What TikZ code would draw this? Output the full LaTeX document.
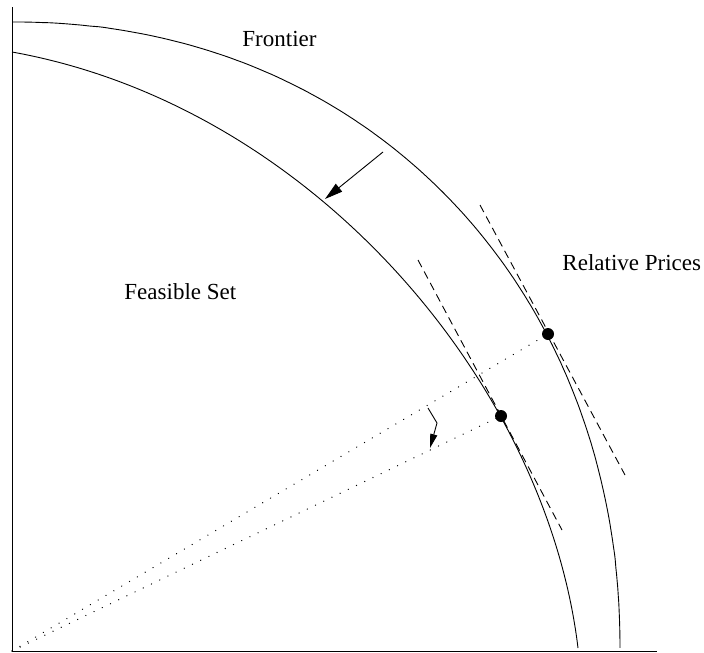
\documentclass[tikz,border=0pt]{standalone}
\usepackage{fontspec}
\setmainfont{Liberation Serif}
\usetikzlibrary{arrows.meta}
\begin{document}
\begin{tikzpicture}[x=1pt,y=-1pt, line width=0.9pt,
  lbl/.style={inner sep=0pt, anchor=base west, font=\fontsize{23}{27}\selectfont},
  tangent/.style={dash pattern=on 8pt off 5pt},
  ray/.style={line cap=round, dash pattern=on 0.1pt off 9pt, line width=1.3pt},
  pt/.style={circle, fill=black, inner sep=0pt, minimum size=12pt},
  bigtip/.style={-{Triangle[length=18pt,width=10pt]}},
  smalltip/.style={-{Triangle[length=14pt,width=7pt]}}]
\useasboundingbox (0,0) rectangle (704,653);
% axes
\coordinate (O) at (12,651);
\coordinate (ytop) at (12,7);
\coordinate (xend) at (657,651);
\draw (ytop) -- (O) -- (xend);
% outer frontier (superellipse)
\draw plot[domain=89.99:0.21, samples=150, smooth] ({12+608*pow(cos(\x),0.952)},{651-629*pow(sin(\x),0.952)});
% inner frontier
\coordinate (i0) at (12,52);
\coordinate (i1) at (578,648);
\draw (i0) .. controls (312,106) and (546.2,383) .. (i1);
% tangent lines
\coordinate (t1a) at (480,205);
\coordinate (t1b) at (625,475);
\coordinate (t2a) at (418,260);
\coordinate (t2b) at (562,530);
\draw[tangent] (t1a) -- (t1b);
\draw[tangent] (t2a) -- (t2b);
% rays
\coordinate (R1) at (548,334);
\coordinate (R2) at (501,416);
\draw[ray] (O) -- (R1);
\draw[ray] (O) -- (R2);
% points
\node[pt] (P1) at (R1) {};
\node[pt] (P2) at (R2) {};
% arrows
\coordinate (a1) at (383,152);
\coordinate (a2) at (325,199);
\draw[bigtip] (a1) -- (a2);
\coordinate (s1) at (428,408);
\coordinate (s2) at (437,423);
\coordinate (s3) at (430,448);
\draw[smalltip] (s1) -- (s2) -- (s3);
% labels
\node[lbl] (frontier) at (242,46) {Frontier};
\node[lbl] (feasible) at (124,299) {Feasible Set};
\node[lbl] (prices) at (562,270) {Relative Prices};
\end{tikzpicture}
\end{document}
